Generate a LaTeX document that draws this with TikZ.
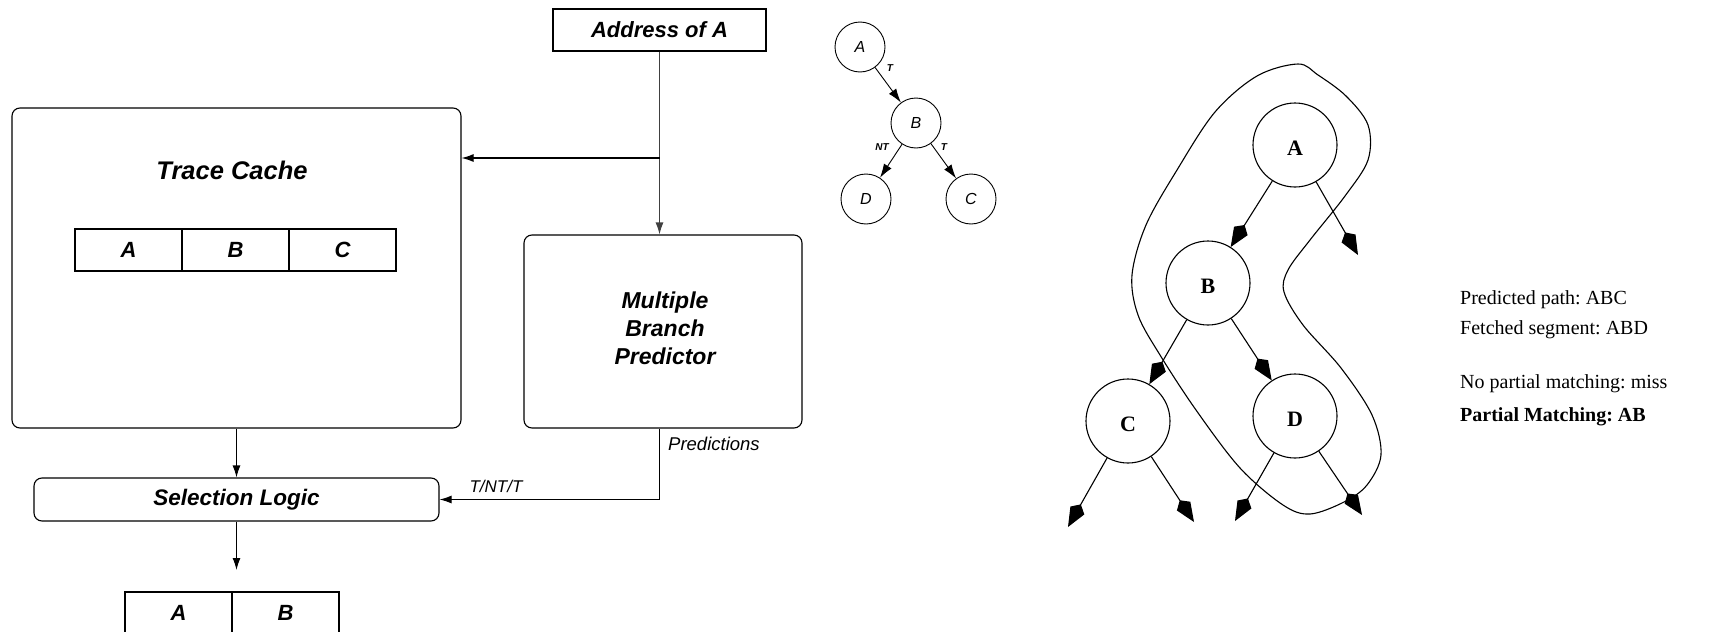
\documentclass[tikz,border=0pt]{standalone}
\usepackage{fontspec}
\setmainfont{Liberation Serif}
\newfontfamily\arialf{Liberation Sans}
\usetikzlibrary{arrows.meta}
\frenchspacing
\newcommand{\lowerit}[1]{\raisebox{-3pt}[\height][\depth]{#1}}
\begin{document}
\begin{tikzpicture}[x=1pt,y=-1pt,
  box/.style={draw, line width=1.1pt, inner sep=0pt},
  sfb/.style={font=\arialf\bfseries\itshape\fontsize{#1}{#1}\selectfont},
  sfi/.style={font=\arialf\itshape\fontsize{#1}{#1}\selectfont},
  conn/.style={line width=1.1pt, -{Latex[length=12pt,width=8pt]}},
  scirc/.style={draw, circle, line width=0.9pt, minimum size=50pt, inner sep=0pt, font=\arialf\itshape\fontsize{16}{16}\selectfont},
  sarr/.style={line width=0.9pt, -{Latex[length=14pt,width=9pt]}},
  slab/.style={font=\arialf\bfseries\itshape\fontsize{10}{10}\selectfont, inner sep=0pt},
  bcirc/.style={draw, circle, line width=1.1pt, minimum size=84pt, inner sep=0pt, font=\bfseries\fontsize{22}{22}\selectfont},
  barr/.style={line width=1.1pt, -{Kite[length=26pt,width=16pt,inset=7pt]}},
  rtext/.style={font=\fontsize{20}{20}\selectfont, anchor=west, inner sep=0pt}]
\useasboundingbox (0,0) rectangle (1709,632);

% ---------- left block diagram ----------
\node[box, minimum width=213pt, minimum height=42pt, sfb=22] (addr) at (659.5,30) {Address of A};
\node[box, rounded corners=8pt, minimum width=449pt, minimum height=320pt] (tc) at (236.5,268) {};
\node[sfb=25.5] (tctext) at (232,170) {Trace Cache};
\node[box, minimum width=107pt, minimum height=42pt, sfb=22] (ca) at (128.5,250) {A};
\node[box, minimum width=107pt, minimum height=42pt, sfb=22] (cb) at (235.5,250) {B};
\node[box, minimum width=107pt, minimum height=42pt, sfb=22] (cc) at (342.5,250) {C};

\node[box, rounded corners=8pt, minimum width=278pt, minimum height=193pt] (mbp) at (663,331.5) {};
\node[sfb=23, align=center] (mbptext) at (665,328) {Multiple\\[5pt]Branch\\[5pt]Predictor};

\node[box, rounded corners=8pt, minimum width=405pt, minimum height=43pt, sfb=22.5] (sel) at (236.5,499.5) {Selection Logic};

\node[box, minimum width=107pt, minimum height=42pt, sfb=22] (oa) at (178.5,613) {A};
\node[box, minimum width=107pt, minimum height=42pt, sfb=22] (ob) at (285.5,613) {B};

\coordinate (split) at (addr.south |- 0,158);
\coordinate (outend) at (sel.south |- 0,570);

\draw[conn, draw=black!75] (addr.south) -- (addr.south |- mbp.north);
\draw[conn] (split) -- (split -| tc.east);
\draw[conn] (addr.south |- mbp.south) |- (sel.east);
\draw[conn] (tc.south) -- (sel.north);
\draw[conn] (sel.south) -- (outend);

\node[sfi=18.5, anchor=west, inner sep=0pt] (predlab) at (668,444) {Predictions};
\node[sfi=17, inner sep=0pt] (tnt) at (496,486) {T/NT/T};

% ---------- small tree ----------
\node[scirc] (sA) at (860,47) {A};
\node[scirc] (sB) at (916,123) {B};
\node[scirc] (sD) at (866,199) {D};
\node[scirc] (sC) at (971,199) {C};
\draw[sarr] (sA) -- (sB);
\draw[sarr] (sB) -- (sD);
\draw[sarr] (sB) -- (sC);
\node[slab] (t1) at (890,68) {T};
\node[slab] (t2) at (882,147) {NT};
\node[slab] (t3) at (944,147) {T};

% ---------- big tree ----------
\draw[line width=1.1pt] plot[smooth cycle, tension=0.55] coordinates {
  (1298,64) (1257,76) (1215,112) (1177,170) (1146,225) (1132,275) (1138,315)
  (1160,355) (1196,410) (1240,468) (1283,505) (1310,514) (1344,502) (1367,485)
  (1381,455) (1372,415) (1341,368) (1303,325) (1284,292) (1288,270) (1310,240)
  (1345,196) (1368,160) (1368,125) (1346,96) (1318,75)};

\node[bcirc] (bA) at (1295,145) {\lowerit{A}};
\node[bcirc] (bB) at (1208,283) {\lowerit{B}};
\node[bcirc] (bC) at (1128,421) {\lowerit{C}};
\node[bcirc] (bD) at (1295,416) {\lowerit{D}};

\coordinate (aR) at (1358,255);
\coordinate (cL) at (1068,527);
\coordinate (cR) at (1194,522);
\coordinate (dL) at (1235,521);
\coordinate (dR) at (1362,515);

\draw[barr] (bA) -- (bB);
\draw[barr] (bA) -- (aR);
\draw[barr] (bB) -- (bC);
\draw[barr] (bB) -- (bD);
\draw[barr] (bC) -- (cL);
\draw[barr] (bC) -- (cR);
\draw[barr] (bD) -- (dL);
\draw[barr] (bD) -- (dR);

% ---------- right text ----------
\node[rtext] (l1) at (1460,300) {Predicted path: ABC};
\node[rtext] (l2) at (1460,330) {Fetched segment: ABD};
\node[rtext] (l3) at (1460,384) {No partial matching: miss};
\node[rtext, font=\bfseries\fontsize{20}{20}\selectfont] (l4) at (1460,417) {Partial Matching: AB};
\end{tikzpicture}
\end{document}
